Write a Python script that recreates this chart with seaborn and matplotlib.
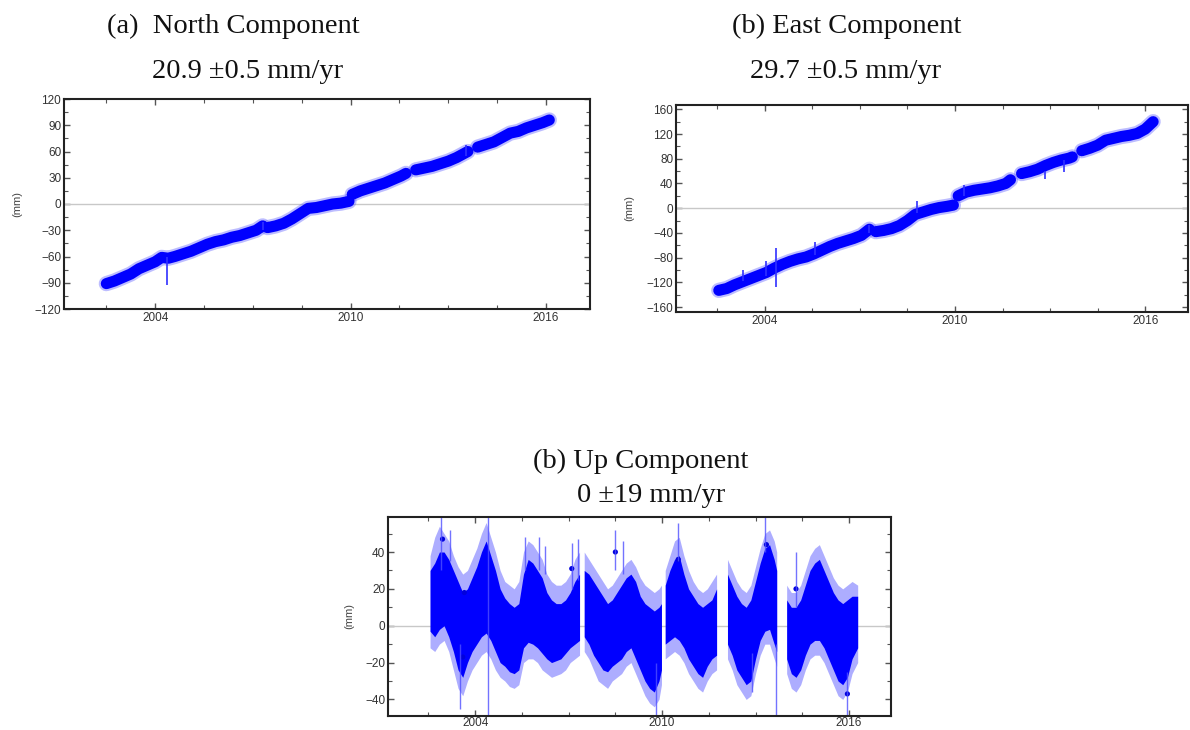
import numpy as np
import pandas as pd
import seaborn as sns
import matplotlib.pyplot as plt

# ---- North component (mm), centre of the daily band
north_t = [2002.5, 2002.75, 2003.0, 2003.25, 2003.5, 2003.75, 2004.0, 2004.2, 2004.4, 2004.6,
           2004.85, 2005.1, 2005.35, 2005.6, 2005.85, 2006.1, 2006.35, 2006.6, 2006.85, 2007.1, 2007.3,
           2007.45, 2007.7, 2007.95, 2008.2, 2008.45, 2008.7, 2008.95, 2009.2, 2009.45, 2009.7, 2009.95,
           2010.05, 2010.3, 2010.55, 2010.8, 2011.05, 2011.3, 2011.55, 2011.7,
           2012.0, 2012.25, 2012.5, 2012.75, 2013.0, 2013.25, 2013.5, 2013.6,
           2013.9, 2014.15, 2014.4, 2014.65, 2014.9, 2015.15, 2015.4, 2015.65, 2015.9, 2016.1]
north_mm = [-91, -88, -84, -80, -74, -70, -66, -61, -62, -60,
            -57, -54, -50, -46, -43, -41, -38, -36, -33, -30, -25,
            -27, -25, -22, -17, -11, -5, -4, -2, 0, 1, 3,
            11, 15, 18, 21, 24, 28, 32, 35,
            39, 41, 43, 46, 49, 53, 58, 60,
            65, 68, 71, 76, 81, 83, 87, 90, 93, 96]
north_spike_t = [2004.35, 2013.55, 2007.3]
north_spike_lo = [-93, 55, -30]
north_spike_hi = [-60, 68, -20]

# ---- East component (mm)
east_t = [2002.55, 2002.8, 2003.05, 2003.3, 2003.55, 2003.8, 2004.05, 2004.3, 2004.55, 2004.8,
          2005.05, 2005.3, 2005.55, 2005.8, 2006.05, 2006.3, 2006.55, 2006.8, 2007.05, 2007.3,
          2007.5, 2007.75, 2008.0, 2008.25, 2008.5, 2008.75, 2009.0, 2009.25, 2009.5, 2009.75, 2009.95,
          2010.1, 2010.35, 2010.6, 2010.85, 2011.1, 2011.35, 2011.6, 2011.75,
          2012.1, 2012.35, 2012.6, 2012.85, 2013.1, 2013.35, 2013.6, 2013.7,
          2014.0, 2014.25, 2014.5, 2014.75, 2015.0, 2015.25, 2015.5, 2015.75, 2016.0, 2016.25]
east_mm = [-133, -130, -124, -119, -114, -109, -104, -97, -91, -86,
           -82, -79, -74, -68, -62, -57, -53, -49, -44, -34,
           -38, -36, -33, -28, -20, -10, -6, -2, 1, 3, 5,
           20, 26, 29, 31, 33, 36, 40, 46,
           56, 59, 63, 69, 74, 78, 81, 83,
           93, 97, 102, 110, 113, 116, 118, 121, 128, 140]
east_spike_t = [2003.3, 2004.05, 2004.35, 2005.6, 2007.3, 2008.8, 2012.85, 2013.45, 2010.3]
east_spike_lo = [-118, -110, -128, -75, -40, -8, 48, 58, 20]
east_spike_hi = [-100, -86, -65, -54, -28, 12, 60, 78, 38]

# ---- Up component (mm): dense core and outer error-bar envelope
up_t = [2002.55, 2002.7, 2002.85, 2003.0, 2003.15, 2003.3, 2003.45, 2003.6, 2003.75, 2003.9,
        2004.05, 2004.2, 2004.35, 2004.5, 2004.65, 2004.8, 2004.95, 2005.1, 2005.25, 2005.4,
        2005.55, 2005.7, 2005.85, 2006.0, 2006.15, 2006.3, 2006.45, 2006.6, 2006.75, 2006.9,
        2007.05, 2007.2, 2007.35,
        2007.5, 2007.65, 2007.8, 2007.95, 2008.1, 2008.25, 2008.4, 2008.55, 2008.7, 2008.85,
        2009.0, 2009.15, 2009.3, 2009.45, 2009.6, 2009.75, 2009.9, 2009.98,
        2010.1, 2010.25, 2010.4, 2010.55, 2010.7, 2010.85, 2011.0, 2011.15, 2011.3, 2011.45, 2011.6, 2011.75,
        2012.1, 2012.25, 2012.4, 2012.55, 2012.7, 2012.85, 2013.0, 2013.15, 2013.3, 2013.45, 2013.6, 2013.68,
        2014.0, 2014.15, 2014.3, 2014.45, 2014.6, 2014.75, 2014.9, 2015.05, 2015.2, 2015.35,
        2015.5, 2015.65, 2015.8, 2015.95, 2016.1, 2016.28]
up_hi = [30, 34, 40, 40, 36, 30, 24, 18, 20, 26,
         32, 40, 46, 38, 30, 20, 15, 12, 10, 12,
         28, 36, 34, 30, 26, 18, 14, 12, 12, 14,
         18, 24, 28,
         30, 28, 24, 20, 16, 12, 14, 18, 22, 26,
         28, 24, 16, 12, 10, 8, 10, 12,
         22, 30, 36, 38, 28, 20, 16, 12, 10, 12, 14, 20,
         28, 22, 16, 12, 10, 14, 24, 34, 42, 44, 36, 30,
         14, 10, 10, 14, 22, 30, 34, 36, 30, 24,
         18, 14, 12, 14, 16, 16]
up_lo = [-3, -6, -2, 0, -6, -14, -24, -28, -20, -14,
         -10, -6, -4, -8, -14, -20, -22, -25, -26, -24,
         -12, -9, -10, -12, -15, -18, -20, -19, -18, -15,
         -12, -10, -8,
         -6, -10, -16, -20, -24, -25, -22, -20, -18, -14,
         -12, -18, -24, -30, -34, -36, -30, -24,
         -10, -8, -6, -8, -12, -18, -22, -26, -28, -22, -18, -16,
         -10, -16, -24, -28, -32, -30, -18, -8, -3, -2, -10, -14,
         -18, -26, -28, -24, -16, -10, -8, -8, -12, -18,
         -24, -30, -32, -28, -18, -12]
up_hi_out = [38, 48, 54, 50, 46, 38, 32, 28, 30, 36,
             42, 50, 56, 48, 40, 30, 24, 22, 20, 24,
             40, 46, 44, 40, 36, 28, 24, 22, 22, 24,
             28, 36, 40,
             40, 36, 32, 28, 24, 20, 22, 26, 30, 34,
             36, 32, 26, 22, 20, 18, 20, 22,
             30, 38, 46, 48, 38, 30, 24, 20, 18, 20, 24, 28,
             36, 30, 24, 20, 18, 22, 32, 42, 50, 52, 46, 40,
             22, 18, 18, 22, 30, 38, 42, 44, 38, 32,
             26, 22, 20, 22, 24, 22]
up_lo_out = [-12, -14, -10, -8, -14, -24, -34, -38, -30, -24,
             -20, -16, -14, -18, -24, -28, -30, -33, -34, -32,
             -20, -18, -18, -20, -24, -26, -28, -27, -26, -24,
             -20, -18, -16,
             -14, -18, -24, -30, -32, -34, -30, -28, -26, -22,
             -20, -26, -32, -38, -42, -44, -40, -32,
             -18, -16, -14, -16, -20, -26, -30, -34, -36, -30, -26, -24,
             -18, -24, -32, -36, -40, -38, -26, -16, -10, -10, -18, -22,
             -26, -34, -36, -32, -24, -18, -16, -16, -20, -26,
             -32, -38, -40, -36, -26, -20]
up_spike_t = [2002.9, 2003.2, 2003.5, 2004.4, 2005.6, 2006.05, 2006.25, 2007.1, 2007.3,
              2008.5, 2008.75, 2009.8, 2010.5, 2012.9, 2013.3, 2013.65, 2014.3, 2015.95]
up_spike_lo = [30, 35, -45, -49, 30, 30, 28, 20, 25, 30, 28, -49, 35, -36, 40, -49, 10, -49]
up_spike_hi = [60, 52, -10, 59, 48, 48, 43, 45, 47, 52, 46, -20, 56, -15, 59, -10, 40, -25]
up_dot_t = [2002.95, 2003.65, 2007.1, 2008.5, 2010.52, 2013.35, 2014.3, 2015.95, 2003.6]
up_dot_mm = [47, 18, 31, 40, 36, 44, 20, -37, -17]

# data gaps (years) that split the series into separate runs
gaps = [2007.4, 2010.0, 2011.85, 2013.8]

sns.set_theme(style="ticks")
plt.rcParams['font.family'] = ['Liberation Sans', 'DejaVu Sans']

W, H = 1190, 730
fig = plt.figure(figsize=(W / 100, H / 100), dpi=100)


def box(left, top, right, bottom):
    return [left / W, (H - bottom) / H, (right - left) / W, (bottom - top) / H]


ax_n = fig.add_axes(box(64, 99, 590, 309))
ax_e = fig.add_axes(box(676, 105, 1188, 312))
ax_u = fig.add_axes(box(388, 517, 891, 716))

blue = "#0000ff"

# trend panels: thick band drawn as a wide line per data run
for ax, t, v, st, slo, shi in [(ax_n, north_t, north_mm, north_spike_t, north_spike_lo, north_spike_hi),
                               (ax_e, east_t, east_mm, east_spike_t, east_spike_lo, east_spike_hi)]:
    df = pd.DataFrame({"t": t, "mm": v})
    df["seg"] = np.searchsorted(gaps, df["t"])
    ax.axhline(0, color="#c8c8c8", lw=1, zorder=1)
    sns.lineplot(data=df, x="t", y="mm", units="seg", estimator=None, color="#5a5aff",
                 lw=11, alpha=0.4, solid_capstyle="round", legend=False, ax=ax)
    sns.lineplot(data=df, x="t", y="mm", units="seg", estimator=None, color=blue,
                 lw=8, solid_capstyle="round", legend=False, ax=ax)
    ax.vlines(st, slo, shi, color="#3030ff", lw=1.2)

# up panel: filled core plus lighter error-bar envelope
up = pd.DataFrame({"t": up_t, "lo": up_lo, "hi": up_hi, "lo2": up_lo_out, "hi2": up_hi_out})
up["seg"] = np.searchsorted(gaps, up["t"])
ax_u.axhline(0, color="#c8c8c8", lw=1, zorder=1)
for _, g in up.groupby("seg"):
    ax_u.fill_between(g["t"], g["lo2"], g["hi2"], color="#6a6aff", alpha=0.55, lw=0)
    ax_u.fill_between(g["t"], g["lo"], g["hi"], color=blue, lw=0)
ax_u.vlines(up_spike_t, up_spike_lo, up_spike_hi, color="#5050ff", lw=1, alpha=0.8)
sns.scatterplot(x=up_dot_t, y=up_dot_mm, color="#0000dd", s=14, edgecolor="none", ax=ax_u)

# axes styling
settings = [(ax_n, (-120, 120), np.arange(-120, 121, 30), np.arange(-120, 121, 15)),
            (ax_e, (-168, 167), np.arange(-160, 161, 40), np.arange(-160, 161, 20)),
            (ax_u, (-49, 59), np.arange(-40, 41, 20), np.arange(-40, 51, 10))]
for ax, ylim, major, minor in settings:
    ax.set_xlim(2001.2, 2017.35)
    ax.set_ylim(*ylim)
    ax.set_xticks([2004, 2010, 2016])
    ax.set_xticks(np.arange(2002.5, 2017.4, 1.5), minor=True)
    ax.set_yticks(major)
    ax.set_yticks(minor, minor=True)
    ax.set_xlabel("")
    ax.set_ylabel("")
    ax.tick_params(which="both", direction="in", top=True, right=True, color="#555555",
                   labelsize=8.5, labelcolor="#333333", pad=2)
    ax.tick_params(which="major", length=4, width=1)
    ax.tick_params(which="minor", length=3, width=0.8)
    for s in ax.spines.values():
        s.set_color("#222222")
        s.set_linewidth(1.5)
ax_u.tick_params(axis="x", pad=1)


def px_text(x, y, s, **kw):
    fig.text(x / W, 1 - y / H, s, **kw)


serif = dict(family=["Liberation Serif", "DejaVu Serif"], fontsize=20.5, color="#111111", va="baseline")
px_text(107, 33, "(a)  North Component", **serif)
px_text(152, 78, "20.9 \u00b10.5 mm/yr", **serif)
px_text(732, 33, "(b) East Component", **serif)
px_text(750, 78, "29.7 \u00b10.5 mm/yr", **serif)
px_text(533, 468, "(b) Up Component", **serif)
px_text(577, 502, "0 \u00b119 mm/yr", **serif)

small = dict(fontsize=8, color="#444444", rotation=90, ha="center", va="center")
px_text(17, 204, "(mm)", **small)
px_text(629, 208, "(mm)", **small)
px_text(349, 616, "(mm)", **small)

fig.savefig("out.png", dpi=100)
